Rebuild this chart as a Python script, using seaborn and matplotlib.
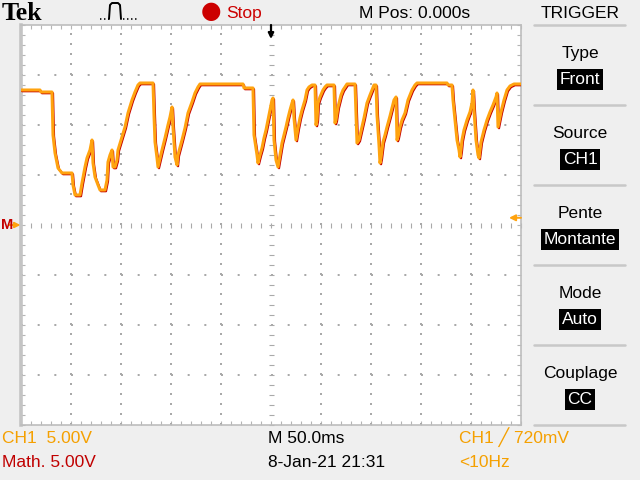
import numpy as np
import pandas as pd
import matplotlib
matplotlib.use("Agg")
import matplotlib.pyplot as plt
import matplotlib.transforms as mtransforms
from matplotlib.lines import Line2D
from matplotlib.ticker import MultipleLocator
import seaborn as sns

# ---------------- data ----------------
time_ms = [-250, -231, -230, -219, -218, -216, -213, -209, -199, -198, -196, -191,
           -189, -186, -184, -181, -179, -178, -176, -173, -171, -166, -164, -163,
           -161, -159, -158, -156, -154, -153, -149, -146, -143, -139, -136, -133,
           -131, -118, -117, -116, -114, -113, -109, -106, -103, -101, -99, -98,
           -96, -94, -93, -89, -86, -83, -79, -76, -73, -71, -28, -27, -18, -17,
           -14, -13, -11, -9, -7, -5, -3, -1, 1, 2, 3, 5, 7, 9, 11, 13, 15, 17,
           19, 21, 22, 23, 25, 27, 29, 31, 34, 36, 38, 41, 44, 45, 46, 47, 49, 52,
           54, 56, 63, 64, 65, 67, 70, 72, 74, 76, 84, 85, 86, 88, 91, 93, 96, 99,
           101, 103, 105, 106, 108, 109, 110, 112, 114, 116, 119, 121, 123, 125,
           126, 127, 129, 131, 134, 137, 139, 141, 144, 146, 176, 177, 181, 182,
           184, 186, 188, 189, 190, 191, 193, 196, 199, 201, 202, 203, 205, 207,
           208, 209, 210, 213, 216, 219, 222, 225, 226, 227, 228, 230, 233, 236,
           239, 243, 250]
ch1_volts = [13.5, 13.5, 13.3, 13.3, 9.0, 7.2, 5.7, 5.2, 5.2, 4.0, 3.0, 3.0,
             4.2, 5.8, 6.7, 7.5, 8.5, 6.2, 4.8, 4.0, 3.5, 3.5, 4.5, 6.3,
             7.0, 7.5, 5.8, 5.8, 6.5, 7.5, 8.8, 9.8, 11.2, 12.5, 13.3, 14.0,
             14.2, 14.2, 11.0, 8.3, 6.7, 5.8, 7.5, 8.7, 10.0, 10.8, 11.8, 9.8,
             6.8, 6.0, 7.0, 8.5, 9.7, 11.2, 12.3, 13.2, 13.8, 14.1, 14.1, 13.7, 13.7, 9.0,
             7.0, 6.2, 7.0, 7.7, 8.7, 9.5, 10.5, 11.5, 12.5, 12.7, 8.5, 6.5, 5.8, 7.0, 8.2, 9.0, 9.8, 10.7,
             11.5, 12.2, 12.5, 10.7, 8.5, 9.7, 10.7, 11.5, 12.5, 13.5, 13.8, 14.0, 14.0, 10.0, 10.5, 12.2, 12.8, 13.5,
             13.8, 14.0, 14.0, 10.2, 10.5, 11.8, 13.0, 13.5, 13.8, 14.1, 14.1, 11.0, 8.2, 8.5, 9.8, 10.7, 12.2, 13.0,
             13.5, 14.0, 14.0, 11.0, 8.0, 6.2, 6.7, 8.3, 9.0, 9.8, 10.9, 11.7, 12.5, 12.8,
             8.5, 8.8, 9.8, 10.5, 11.2, 12.5, 13.0, 13.5, 14.0, 14.2, 14.2, 14.0, 14.0, 12.5,
             10.5, 8.5, 7.5, 6.8, 7.5, 8.5, 9.5, 10.5, 11.3, 12.2, 13.5, 11.5, 8.5, 7.0,
             6.7, 7.5, 8.3, 9.5, 10.5, 11.3, 12.0, 12.8, 13.2, 9.8, 10.3, 11.3, 12.5, 13.5,
             13.9, 14.1, 14.1]
trigger_level_v = 0.72
volts_per_div = 5.0
ms_per_div = 50.0

top_texts = ["Tek", "Stop", "M Pos: 0.000s", "TRIGGER"]
menu_labels = ["Type", "Source", "Pente", "Mode", "Couplage"]
menu_values = ["Front", "CH1", "Montante", "Auto", "CC"]
bottom_left = ["CH1  5.00V", "Math. 5.00V"]
bottom_mid = ["M 50.0ms", "8-Jan-21 21:31"]
bottom_right = ["CH1 \u2571 720mV", "<10Hz"]

# ---------------- style ----------------
sns.set_theme(style="white")
plt.rcParams["font.family"] = ["Liberation Sans", "DejaVu Sans"]
plt.rcParams["lines.scale_dashes"] = False

ORANGE = "#ffa30f"
RED = "#c40000"
GRID = "#a9a9a9"
BG = "#efefef"
FS = 12.5

W, H = 640, 480
fig = plt.figure(figsize=(6.4, 4.8), dpi=100, facecolor=BG)
rect = [21 / W, 55 / H, 500 / W, 400 / H]

# crosshair axes (below)
axc = fig.add_axes(rect, zorder=0)
axc.set_facecolor("white")
ax = fig.add_axes(rect, zorder=1)
ax.patch.set_visible(False)

for a in (ax, axc):
    a.set_xlim(-5 * ms_per_div, 5 * ms_per_div)
    a.set_ylim(-4 * volts_per_div, 4 * volts_per_div)
    a.xaxis.set_major_locator(MultipleLocator(ms_per_div))
    a.xaxis.set_minor_locator(MultipleLocator(ms_per_div / 5))
    a.yaxis.set_major_locator(MultipleLocator(volts_per_div))
    a.yaxis.set_minor_locator(MultipleLocator(volts_per_div / 5))

# center crosshair with small ticks
for side in ("top", "right"):
    axc.spines[side].set_visible(False)
axc.spines["left"].set_position(("data", 0))
axc.spines["bottom"].set_position(("data", 0))
axc.spines["left"].set_color("none")
axc.spines["bottom"].set_color("none")
axc.tick_params(which="both", direction="inout", length=3.6, width=0.8,
                color=GRID, labelbottom=False, labelleft=False,
                bottom=True, left=True)

# dotted graticule
for k in range(-3, 4):
    if k != 0:
        ax.axhline(k * volts_per_div, color=GRID, lw=1.44, ls=(0, (1.44, 10.56)), zorder=1)
for k in range(-4, 5):
    if k != 0:
        ax.axvline(k * ms_per_div, color=GRID, lw=1.44, ls=(0, (1.44, 5.76)), zorder=1)

# border ticks
ax.tick_params(which="both", direction="in", length=3.2, width=0.8, color="#b5b5b5",
               top=True, right=True, bottom=True, left=True,
               labelbottom=False, labelleft=False)
for side, sp in ax.spines.items():
    sp.set_color("#bdbdbd")
    sp.set_linewidth(1.2)
ax.spines["left"].set_linewidth(2.6)
ax.spines["left"].set_color("#c4c4c4")

# ---------------- traces ----------------
df = pd.DataFrame({"t": time_ms, "v": ch1_volts})
sns.lineplot(data=df, x="t", y="v", ax=ax, color=RED, lw=1.6,
             estimator=None, sort=False, zorder=3)
ax.lines[-1].set_transform(mtransforms.offset_copy(ax.transData, fig=fig, x=1.0, y=-1.2, units="dots"))
sns.lineplot(data=df, x="t", y="v", ax=ax, color=ORANGE, lw=2.2,
             estimator=None, sort=False, zorder=4)
ax.set_xlabel("")
ax.set_ylabel("")
ax.set_xlim(-5 * ms_per_div, 5 * ms_per_div)
ax.set_ylim(-4 * volts_per_div, 4 * volts_per_div)

# trigger level marker (right), trigger position (top), ground marker (left)
blend_y = mtransforms.blended_transform_factory(ax.transAxes, ax.transData)
ax.annotate("", xy=(0.976, trigger_level_v), xycoords=blend_y,
            xytext=(1.0, trigger_level_v), textcoords=blend_y,
            arrowprops=dict(arrowstyle="-|>", color=ORANGE, lw=1.4, mutation_scale=9,
                            shrinkA=0, shrinkB=0), annotation_clip=False, zorder=6)
blend_x = mtransforms.blended_transform_factory(ax.transData, ax.transAxes)
ax.annotate("", xy=(0, 0.965), xycoords=blend_x, xytext=(0, 1.0), textcoords=blend_x,
            arrowprops=dict(arrowstyle="-|>", color="black", lw=1.6, mutation_scale=8,
                            shrinkA=0, shrinkB=0), annotation_clip=False, zorder=6)
ax.annotate("", xy=(-0.001, 0), xycoords=blend_y, xytext=(-0.024, 0), textcoords=blend_y,
            arrowprops=dict(arrowstyle="-|>", color=ORANGE, lw=1.4, mutation_scale=8,
                            shrinkA=0, shrinkB=0), annotation_clip=False, zorder=6)


def px(x, y):
    return x / W, 1 - y / H


fig.text(*px(1, 225), "M", color=RED, fontsize=10.5, fontweight="bold",
         ha="left", va="center", family=["Liberation Sans Narrow", "Liberation Sans"])

# ---------------- top bar ----------------
fig.text(*px(2, 20), top_texts[0], fontsize=18.5, fontweight="bold",
         family=["Liberation Serif", "DejaVu Serif"], color="black", ha="left", va="baseline")
# pulse icon
fig.add_artist(Line2D([100 / W, 109 / W], [1 - 19 / H] * 2, transform=fig.transFigure,
                      color="black", lw=1.2, ls=(0, (1.0, 1.9))))
fig.add_artist(Line2D([c / W for c in (109, 110, 112, 118, 120, 121)],
                      [1 - c / H for c in (19, 5, 3, 3, 5, 19)],
                      transform=fig.transFigure, color="black", lw=1.4))
fig.add_artist(Line2D([123 / W, 137 / W], [1 - 19 / H] * 2, transform=fig.transFigure,
                      color="black", lw=1.2, ls=(0, (1.0, 1.9))))
fig.text(*px(201, 11), "\u25cf", fontsize=17, color="#cc0000", ha="left", va="center",
         family=["DejaVu Sans"])
fig.text(*px(226, 18), top_texts[1], fontsize=FS, color="#cc0000", ha="left", va="baseline")
fig.text(*px(415, 18), top_texts[2], fontsize=FS, color="black", ha="center", va="baseline")
fig.text(*px(580, 18), top_texts[3], fontsize=FS, color="black", ha="center", va="baseline")

# ---------------- right menu ----------------
for yy in (25, 105, 185, 265, 345, 425):
    fig.add_artist(Line2D([534 / W, 625 / W], [1 - yy / H] * 2, transform=fig.transFigure,
                          color="#c8c8c8", lw=1.8))
for i, (lab, val) in enumerate(zip(menu_labels, menu_values)):
    base = 58 + 80 * i
    fig.text(*px(580, base), lab, fontsize=FS, color="black", ha="center", va="baseline")
    fig.text(*px(580, base + 26), val, fontsize=FS, color="white", ha="center", va="baseline",
             bbox=dict(boxstyle="square,pad=0.15", fc="black", ec="none"))

# ---------------- bottom bar ----------------
fig.text(*px(2, 443), bottom_left[0], fontsize=FS, color="#f5a000", ha="left", va="baseline")
fig.text(*px(2, 467), bottom_left[1], fontsize=FS, color="#c00000", ha="left", va="baseline")
fig.text(*px(268, 443), bottom_mid[0], fontsize=FS, color="black", ha="left", va="baseline")
fig.text(*px(268, 467), bottom_mid[1], fontsize=FS, color="black", ha="left", va="baseline")
fig.text(*px(459, 443), bottom_right[0], fontsize=FS, color="#f5a000", ha="left", va="baseline")
fig.text(*px(459, 467), bottom_right[1], fontsize=FS, color="#f5a000", ha="left", va="baseline")

fig.savefig("out.png", dpi=100, facecolor=BG)
